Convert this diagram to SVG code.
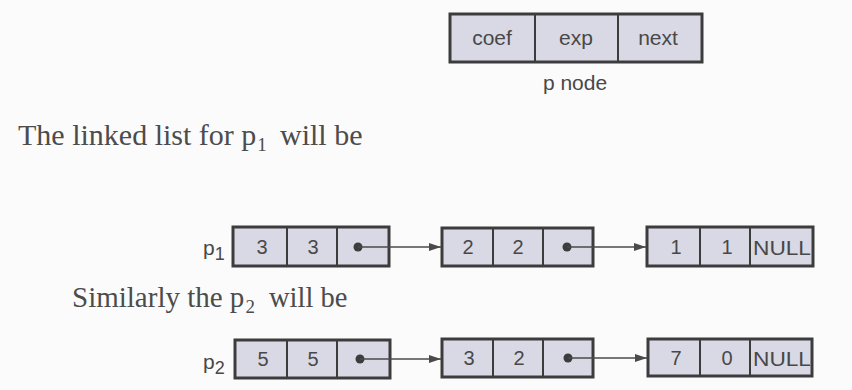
<svg xmlns="http://www.w3.org/2000/svg" width="852" height="390" viewBox="0 0 852 390">
  <defs>
    <marker id="arrow" viewBox="0 0 12 8" refX="12" refY="4" markerWidth="12" markerHeight="8" markerUnits="userSpaceOnUse" orient="auto">
      <path d="M0,0 L12,4 L0,8 Z" fill="#4a4a4a"/>
    </marker>
  </defs>
  <style>
    .box { fill: #d9d9e5; stroke: #3c3c3c; stroke-width: 3; }
    .div { stroke: #3c3c3c; stroke-width: 2; }
    .val { font-family: "Liberation Sans", Arial, sans-serif; font-size: 20px; fill: #484848; text-anchor: middle; }
    .hdr { font-family: "Liberation Sans", Arial, sans-serif; font-size: 21px; fill: #484848; text-anchor: middle; }
    .null { font-family: "Liberation Sans", Arial, sans-serif; font-size: 21px; fill: #484848; }
    .lbl { font-family: "Liberation Sans", Arial, sans-serif; font-size: 21px; fill: #484848; }
    .prose { font-family: "Liberation Serif", "Times New Roman", serif; fill: #4c4c4c; }
    .dot { fill: #3c3c3c; }
    .link { stroke: #4a4a4a; stroke-width: 1.6; fill: none; marker-end: url(#arrow); }
  </style>
  <rect width="852" height="390" fill="#fbfbfb"/>

  <!-- node layout legend -->
  <g id="p-node">
    <rect class="box" x="450" y="14" width="252" height="48"/>
    <line class="div" x1="535" y1="14" x2="535" y2="62"/>
    <line class="div" x1="618" y1="14" x2="618" y2="62"/>
    <text class="hdr" x="492" y="45">coef</text>
    <text class="hdr" x="576" y="45">exp</text>
    <text class="hdr" x="658" y="45">next</text>
    <text class="hdr" x="575" y="90">p node</text>
  </g>

  <text class="prose" x="18" y="145" font-size="30">The linked list for p<tspan dx="1" dy="6" font-size="19">1</tspan><tspan x="280" y="145">will be</tspan></text>

  <!-- list p1 -->
  <g id="p1-label"><text class="lbl" x="203" y="255">p<tspan font-size="18" dy="5">1</tspan></text></g>
  <g id="p1-n1">
    <rect class="box" x="233" y="227" width="156" height="39"/>
    <line class="div" x1="287" y1="227" x2="287" y2="266"/>
    <line class="div" x1="337" y1="227" x2="337" y2="266"/>
    <text class="val" x="262" y="254">3</text>
    <text class="val" x="313" y="254">3</text>
    <circle class="dot" cx="358" cy="247" r="4.5"/>
  </g>
  <g id="p1-n2">
    <rect class="box" x="442" y="228" width="151" height="38"/>
    <line class="div" x1="493" y1="228" x2="493" y2="266"/>
    <line class="div" x1="543" y1="228" x2="543" y2="266"/>
    <text class="val" x="468" y="254">2</text>
    <text class="val" x="518" y="254">2</text>
    <circle class="dot" cx="567" cy="247" r="4.5"/>
  </g>
  <g id="p1-n3">
    <rect class="box" x="647" y="227" width="166" height="39"/>
    <line class="div" x1="700" y1="227" x2="700" y2="266"/>
    <line class="div" x1="750" y1="227" x2="750" y2="266"/>
    <text class="val" x="676" y="254">1</text>
    <text class="val" x="727" y="254">1</text>
    <text class="null" x="753" y="255" textLength="58" lengthAdjust="spacingAndGlyphs">NULL</text>
  </g>

  <text class="prose" x="72" y="307" font-size="29">Similarly the p<tspan dx="1" dy="6" font-size="19">2</tspan><tspan x="269" y="307" font-size="28.5">will be</tspan></text>

  <!-- list p2 -->
  <g id="p2-label"><text class="lbl" x="203" y="369">p<tspan font-size="18" dy="5">2</tspan></text></g>
  <g id="p2-n1">
    <rect class="box" x="235" y="340" width="155" height="38"/>
    <line class="div" x1="287" y1="340" x2="287" y2="378"/>
    <line class="div" x1="337" y1="340" x2="337" y2="378"/>
    <text class="val" x="263" y="366">5</text>
    <text class="val" x="313" y="366">5</text>
    <circle class="dot" cx="360" cy="359" r="4.5"/>
  </g>
  <g id="p2-n2">
    <rect class="box" x="442" y="339" width="151" height="38"/>
    <line class="div" x1="493" y1="339" x2="493" y2="377"/>
    <line class="div" x1="543" y1="339" x2="543" y2="377"/>
    <text class="val" x="469" y="365">3</text>
    <text class="val" x="519" y="365">2</text>
    <circle class="dot" cx="568" cy="358" r="4.5"/>
  </g>
  <g id="p2-n3">
    <rect class="box" x="648" y="339" width="164" height="37"/>
    <line class="div" x1="700" y1="339" x2="700" y2="376"/>
    <line class="div" x1="750" y1="339" x2="750" y2="376"/>
    <text class="val" x="676" y="365">7</text>
    <text class="val" x="727" y="365">0</text>
    <text class="null" x="753" y="366" textLength="58" lengthAdjust="spacingAndGlyphs">NULL</text>
  </g>

  <!-- next pointers -->
  <g id="connectors">
    <line class="link" x1="358" y1="247" x2="441" y2="247"/>
    <line class="link" x1="567" y1="247" x2="646" y2="247"/>
    <line class="link" x1="360" y1="359" x2="441" y2="359"/>
    <line class="link" x1="568" y1="358" x2="647" y2="358"/>
  </g>
</svg>
